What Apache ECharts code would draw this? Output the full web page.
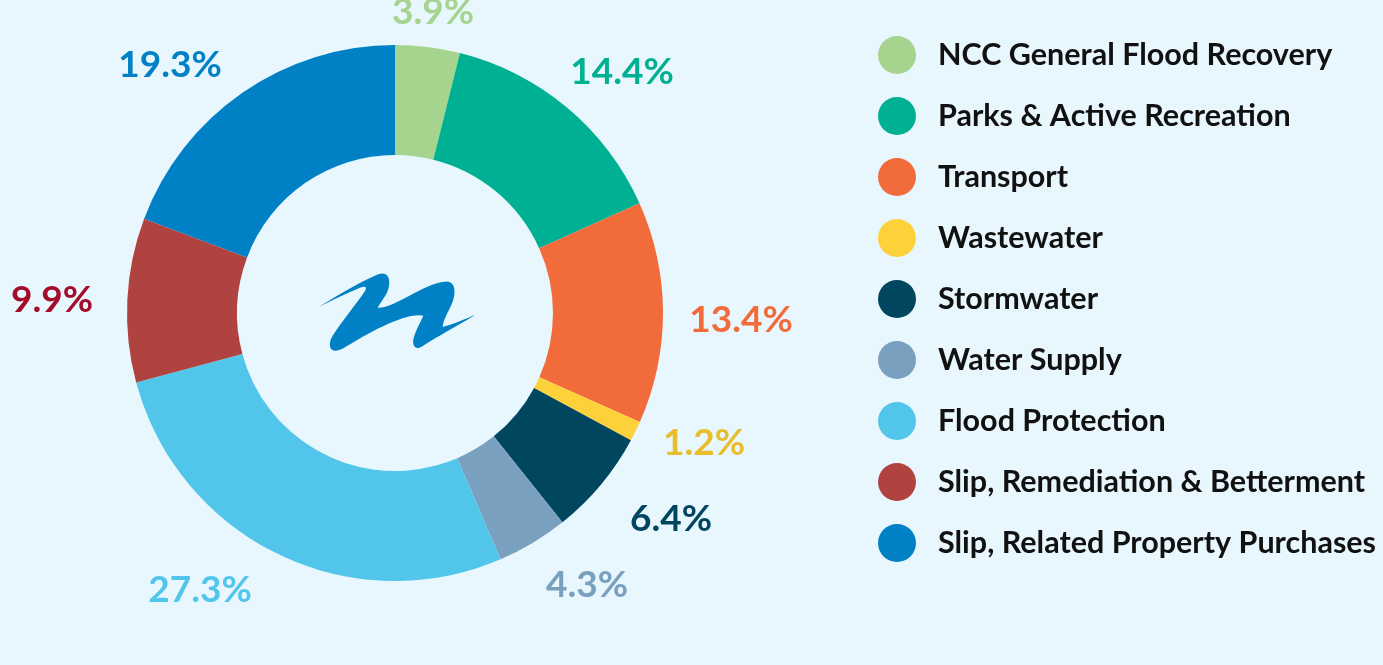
<!DOCTYPE html>
<html>
<head>
<meta charset="utf-8">
<script src="https://cdn.jsdelivr.net/npm/echarts@6/dist/echarts.min.js"></script>
<style>
html,body{margin:0;padding:0;background:#e8f6fd;}
#chart{width:1383px;height:665px;}
</style>
</head>
<body>
<div id="chart"></div>
<script>
const categories = [
  'NCC General Flood Recovery',
  'Parks & Active Recreation',
  'Transport',
  'Wastewater',
  'Stormwater',
  'Water Supply',
  'Flood Protection',
  'Slip, Remediation & Betterment',
  'Slip, Related Property Purchases'
];
const shares = [3.9, 14.4, 13.4, 1.2, 6.4, 4.3, 27.3, 9.9, 19.3];
const sliceColors = ['#a6d48f','#00b092','#f26b3a','#fdd13a','#00465e','#7aa0bf','#52c6ea','#b04340','#0081c6'];
const labelColors = ['#a6d48f','#00b092','#f26b3a','#e8bd2c','#00465e','#7aa0bf','#52c6ea','#a50c2a','#0081c6'];
// label anchor offsets from the donut centre (px)
const labelOffsets = [[38,-301],[227,-241],[346,7],[309,130],[276,206],[192,272],[-195,277],[-343,-13],[-225,-248]];

const CX = 395, CY = 313;
const LOGO_PATH = 'M28,125 C70,100 150,50 205,28 C240,15 245,55 230,85 C222,100 210,115 203,128 C250,132 340,55 405,50 C440,47 438,90 425,118 C415,140 400,165 398,186 C430,178 470,160 495,150 C460,172 390,210 335,245 C312,258 305,235 312,215 C318,195 332,170 340,152 C290,140 180,200 100,250 C60,272 50,240 68,212 C95,170 140,115 165,78 C172,66 165,62 150,68 C110,85 60,108 28,125 Z';
echarts.graphic.registerShape('logoWave', echarts.graphic.extendPath(LOGO_PATH, {}));

const chart = echarts.init(document.getElementById('chart'));
const FONT = 'Lato, "Open Sans", sans-serif';

chart.setOption({
  backgroundColor: '#e8f6fd',
  animation: false,
  legend: {
    orient: 'vertical',
    left: 878,
    top: 36,
    padding: 0,
    icon: 'circle',
    itemWidth: 38,
    itemHeight: 38,
    itemGap: 23,
    data: categories,
    textStyle: {
      fontFamily: FONT,
      fontWeight: 'bold',
      fontSize: 30.5,
      color: '#111111',
      lineHeight: 38,
      padding: [0, 0, 0, 17]
    }
  },
  graphic: [{
    type: 'logoWave',
    x: 310, y: 265,
    scaleX: 1/3, scaleY: 1/3,
    style: { fill: '#0081c6' }
  }],
  series: [{
    type: 'pie',
    center: [CX, CY],
    radius: [158, 268],
    startAngle: 90,
    clockwise: true,
    avoidLabelOverlap: false,
    labelLine: { show: false },
    label: {
      show: true,
      position: 'outside',
      formatter: p => shares[p.dataIndex].toFixed(1) + '%',
      fontFamily: FONT,
      fontWeight: 'bold',
      fontSize: 37
    },
    labelLayout: function (params) {
      const o = labelOffsets[params.dataIndex];
      return { x: CX + o[0], y: CY + o[1], align: 'center', verticalAlign: 'middle' };
    },
    emphasis: { disabled: true },
    data: categories.map((c, i) => ({
      name: c,
      value: shares[i],
      itemStyle: { color: sliceColors[i] },
      label: { color: labelColors[i] }
    }))
  }]
});
</script>
</body>
</html>
